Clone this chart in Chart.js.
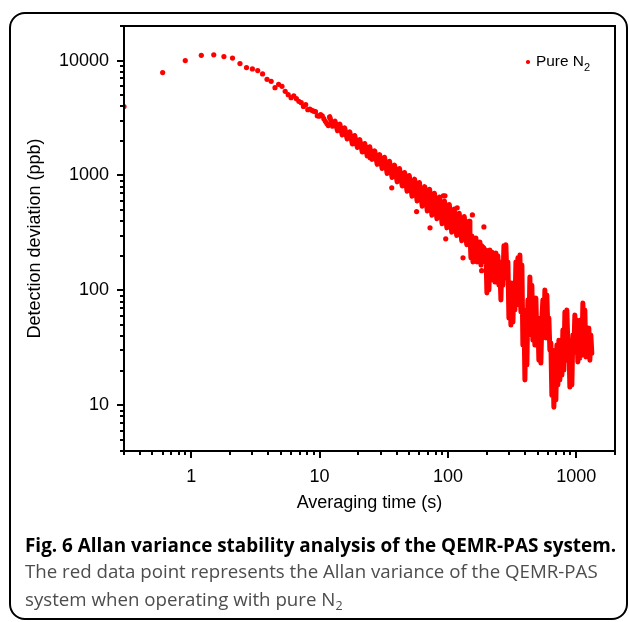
<!DOCTYPE html>
<html>
<head>
<meta charset="utf-8">
<script src="https://cdn.jsdelivr.net/npm/chart.js@4.4.1/dist/chart.umd.min.js"></script>
<style>
  html, body { margin: 0; padding: 0; background: #fff; }
  #wrap { position: relative; width: 629px; height: 622px; overflow: hidden; }
  #frame { position: absolute; left: 9px; top: 12px; width: 615px; height: 604px; border: 2px solid #000; border-radius: 16px; }
  #c { position: absolute; left: 0; top: 0; }
  .legend { position: absolute; left: 536px; top: 52px; font-family: "Liberation Sans", Arial, sans-serif; font-size: 15.4px; line-height: 18px; white-space: nowrap; color: #000; }
  .legend sub { font-size: 11px; vertical-align: -5px; line-height: 0; }
  .legend-dot { position: absolute; left: 526px; top: 60px; width: 3.5px; height: 3.5px; border-radius: 50%; background: #ff0000; }
  .cap { position: absolute; left: 25px; font-family: "Open Sans", sans-serif; line-height: 18px; white-space: nowrap; }
  .cap-title { top: 536px; font-size: 18.9px; font-weight: bold; color: #000; }
  .cap-text { font-size: 18.7px; color: #4d4d4d; }
  .cap-text sub { font-size: 12.5px; vertical-align: -4px; line-height: 0; }
</style>
</head>
<body>
<div id="wrap">
  <div id="frame"></div>
  <canvas id="c" width="629" height="622"></canvas>
  <div class="legend-dot"></div>
  <div class="legend">Pure N<sub>2</sub></div>
  <div class="cap cap-title">Fig. 6 Allan variance stability analysis of the QEMR-PAS system.</div>
  <div class="cap cap-text" style="top: 562px">The red data point represents the Allan variance of the QEMR-PAS</div>
  <div class="cap cap-text" style="top: 590px">system when operating with pure N<sub>2</sub></div>
</div>
<script>
/** Allan 偏差：前段逐点（τ = 0.3 s 步长） */
var tauSparse = [0.3, 0.6, 0.9, 1.2, 1.5, 1.8, 2.1, 2.4, 2.7, 3.0,
  3.3, 3.6, 3.9, 4.2, 4.5, 4.8, 5.1, 5.4, 5.7, 6.0,
  6.3, 6.6, 6.9, 7.2, 7.5, 7.8, 8.1, 8.4, 8.7, 9.0,
  9.3, 9.6, 9.9, 10.2, 10.5, 10.8, 11.1, 11.4, 11.7, 12.0];
var devSparse = [3980, 7860, 10000, 11120, 11230, 10840, 10510, 9415, 8690, 8466,
  8181, 7656, 6870, 6600, 5814, 6215, 5970, 5400, 5054, 4757,
  4922, 4663, 4416, 4300, 3990, 4130, 3740, 3780, 3690, 3630,
  3590, 3310, 3280, 3380, 3310, 3120, 2960, 2830, 2720, 3190];

/** 偏离主带的散点 */
var tauScatter = [24.8, 36.5, 57.0, 72.5, 91.9, 94.8, 96.1, 118, 131, 155, 183, 190.6];
var devScatter = [1426, 781, 485, 350, 665, 665, 281, 523, 192, 454, 148.5, 357];

/** 密集段：沿点云上下沿描出的路径 */
var tauBand = [12, 12.6, 13.2, 13.8, 14.4, 15, 15.7, 16.4, 17.2, 18,
  18.8, 19.7, 20.6, 21.5, 22.5, 23.5, 24.6, 25.7, 26.9, 28.1,
  29.4, 30.7, 32.1, 33.6, 35.1, 36.7, 38.4, 40.2, 42, 44,
  46, 48, 50, 52.5, 55, 57.5, 60, 63, 66, 69,
  72, 75, 78.5, 82, 86, 90, 94, 98, 102.5, 107,
  112, 117, 122.5, 128, 134, 140, 146,
  148.3, 151.0, 153.8, 156.5, 159.4, 162.3, 165.2, 168.2, 171.2, 174.3,
  177.5, 180.7, 183.9, 190.6, 194.1, 197.6, 201.1, 204.8, 208.5, 212.2,
  216.0, 220.0, 223.9, 228.0, 232.1, 236.3, 240.6, 244.9, 249.4, 253.9,
  258.5, 263.2, 267.9, 272.8, 277.7, 282.7, 287.9, 293.1, 298.4, 303.8,
  309.3, 314.9, 320.6, 326.3, 332.3, 338.3, 344.4, 350.6, 356.9, 363.4,
  370.0, 376.7, 383.5, 390.4, 397.5, 404.6, 412.0, 419.4, 427.0, 434.6,
  442.5, 450.5, 458.6, 466.9, 475.3, 483.9, 492.7, 501.5, 510.6, 520.0,
  529.3, 538.8, 548.6, 558.5, 568.6, 578.8, 589.3, 600.0, 610.9, 622.0,
  633.3, 644.6, 656.3, 668.2, 680.3, 692.7, 705.2, 717.9, 730.9, 744.1,
  757.6, 771.4, 785.3, 799.4, 814.0, 828.7, 843.7, 859.0, 874.3, 890.2,
  906.3, 922.7, 939.3, 956.1, 973.4, 991.1, 1009, 1027, 1046, 1065,
  1084, 1104, 1124, 1144, 1165, 1186, 1207, 1229, 1251, 1274,
  1297, 1320];
var devBand = [3250, 2680, 2980, 2450, 2800, 2250, 2600, 2080, 2400, 1880,
  2230, 1750, 2050, 1600, 1900, 1480, 1780, 1380, 1640, 1250,
  1520, 1150, 1440, 1040, 1330, 960, 1230, 880, 1150, 810,
  1060, 730, 1000, 660, 930, 600, 870, 540, 800, 490,
  760, 450, 700, 420, 650, 380, 600, 350, 560, 320,
  510, 300, 470, 270, 440, 250, 400,
  323, 192, 298, 177, 275, 203, 286, 177, 254, 192,
  264, 166, 244, 234, 177, 225, 95, 200, 101, 225,
  136, 216, 123, 208, 118, 212, 128, 200, 111, 151,
  82.5, 177, 111, 244, 136, 249, 128, 177, 57.4, 111,
  49.9, 116, 53, 101, 67.5, 177, 82.5, 192, 74.6, 203,
  64.8, 166, 33.4, 67.5, 16.6, 55.2, 22.4, 82.5, 40.9, 131,
  49.9, 111, 36.9, 82.5, 33.4, 85.8, 36.9, 57.4, 24.7, 53,
  23.3, 55.2, 82.5, 40.9, 101, 38.5, 91.2, 45.2, 57.4, 30.2,
  34.8, 12.2, 30.2, 9.6, 24.7, 11.1, 33.4, 15.0, 36.9, 16.6,
  35.5, 18.3, 45.2, 20.2, 64.8, 24.7, 67.5, 33.4, 36.9, 14.4,
  33.4, 15.0, 40.9, 30.2, 61.0, 29.0, 55.2, 23.8, 38.5, 25.7,
  55.2, 27.3, 77.6, 36.9, 67.5, 26.3, 45.2, 27.3, 47.0, 24.7,
  40.9, 28.5];

/** 坐标刻度 */
var xMajorTicks = [1, 10, 100, 1000];
var xMinorTicks = [0.3, 0.4, 0.5, 0.6, 0.7, 0.8, 0.9, 2, 3, 4, 5, 6, 7, 8, 9,
  20, 30, 40, 50, 60, 70, 80, 90, 200, 300, 400, 500, 600, 700, 800, 900, 2000];
var yMajorTicks = [10, 100, 1000, 10000];
var yMinorTicks = [4, 5, 6, 7, 8, 9, 20, 30, 40, 50, 60, 70, 80, 90,
  200, 300, 400, 500, 600, 700, 800, 900, 2000, 3000, 4000, 5000, 6000, 7000, 8000, 9000, 20000];

function toPoints(xs, ys) {
  return xs.map(function (x, i) {
    return { x: x, y: ys[i] };
  });
}

function tickObjects(major, minor) {
  return major.concat(minor)
    .sort(function (a, b) { return a - b; })
    .map(function (v) { return { value: v }; });
}

/** 外框 + 朝外的主/次刻度 */
var axisFramePlugin = {
  id: "axisFrame",
  afterDatasetsDraw: function (chart) {
    var ctx = chart.ctx;
    var a = chart.chartArea;
    var xs = chart.scales.x;
    var ys = chart.scales.y;
    ctx.save();
    ctx.strokeStyle = "#000";
    ctx.lineWidth = 2;
    ctx.strokeRect(a.left, a.top, a.right - a.left, a.bottom - a.top);
    ctx.beginPath();
    xMajorTicks.concat(xMinorTicks).forEach(function (v) {
      var px = Math.round(xs.getPixelForValue(v));
      var len = xMajorTicks.indexOf(v) >= 0 ? 7 : 4;
      ctx.moveTo(px, a.bottom);
      ctx.lineTo(px, a.bottom + len);
    });
    yMajorTicks.concat(yMinorTicks).forEach(function (v) {
      var py = Math.round(ys.getPixelForValue(v));
      var len = yMajorTicks.indexOf(v) >= 0 ? 7 : 4;
      ctx.moveTo(a.left, py);
      ctx.lineTo(a.left - len, py);
    });
    ctx.stroke();
    ctx.restore();
  },
};

Chart.defaults.font.family = "'Liberation Sans', Arial, sans-serif";
Chart.defaults.color = "#000";

new Chart(document.getElementById("c"), {
  type: "scatter",
  data: {
    datasets: [
      {
        label: "Pure N₂",
        data: toPoints(tauSparse, devSparse).concat(toPoints(tauScatter, devScatter)),
        pointRadius: 2.6,
        pointHoverRadius: 2.6,
        backgroundColor: "#ff0000",
        borderWidth: 0,
        clip: 0,
      },
      {
        label: "Pure N₂ (dense)",
        data: toPoints(tauBand, devBand),
        showLine: true,
        borderColor: "#ff0000",
        borderWidth: 5,
        borderJoinStyle: "round",
        borderCapStyle: "round",
        pointRadius: 0,
        tension: 0,
        clip: 0,
      },
    ],
  },
  options: {
    responsive: false,
    animation: false,
    layout: { padding: { left: 20, top: 26, right: 14, bottom: 101 } },
    plugins: {
      legend: { display: false },
      tooltip: { enabled: false },
    },
    scales: {
      x: {
        type: "logarithmic",
        min: 0.3,
        max: 2000,
        afterBuildTicks: function (scale) {
          scale.ticks = tickObjects(xMajorTicks, xMinorTicks);
        },
        afterFit: function (scale) {
          scale.height = 70;
        },
        grid: { display: false, drawTicks: false, tickLength: 0 },
        border: { display: false },
        ticks: {
          autoSkip: false,
          maxRotation: 0,
          padding: 15,
          font: { size: 18 },
          callback: function (v) {
            return xMajorTicks.indexOf(v) >= 0 ? String(v) : null;
          },
        },
        title: {
          display: true,
          text: "Averaging time (s)",
          font: { size: 18 },
          padding: { top: 0, bottom: 7 },
        },
      },
      y: {
        type: "logarithmic",
        min: 4,
        max: 20000,
        afterBuildTicks: function (scale) {
          scale.ticks = tickObjects(yMajorTicks, yMinorTicks);
        },
        afterFit: function (scale) {
          scale.width = 104;
        },
        grid: { display: false, drawTicks: false, tickLength: 0 },
        border: { display: false },
        ticks: {
          autoSkip: false,
          padding: 15,
          font: { size: 18 },
          callback: function (v) {
            return yMajorTicks.indexOf(v) >= 0 ? String(v) : null;
          },
        },
        title: {
          display: true,
          text: "Detection deviation (ppb)",
          font: { size: 18 },
          padding: { top: 4, bottom: 0 },
        },
      },
    },
  },
  plugins: [axisFramePlugin],
});
</script>
</body>
</html>
